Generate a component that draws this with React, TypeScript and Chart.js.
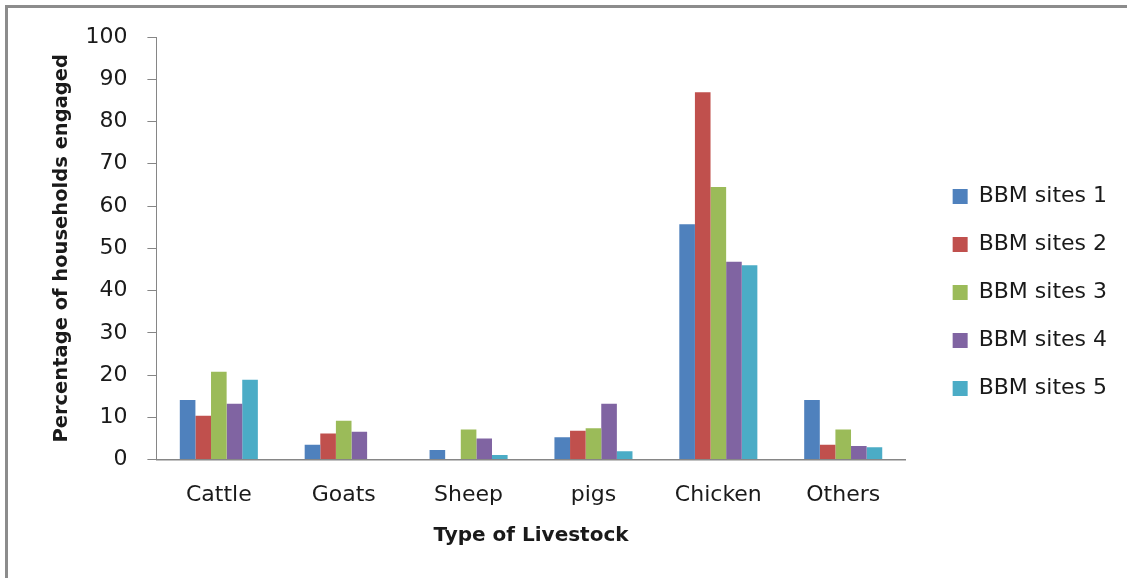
import React, { useEffect, useRef } from "react";
import { Chart, registerables } from "chart.js";

Chart.register(...registerables);

const categories = ["Cattle", "Goats", "Sheep", "pigs", "Chicken", "Others"];
const seriesNames = ["BBM sites 1", "BBM sites 2", "BBM sites 3", "BBM sites 4", "BBM sites 5"];
const site1 = [14.1, 3.5, 2.3, 5.3, 55.7, 14.1];
const site2 = [10.4, 6.2, 0, 6.8, 86.9, 3.5];
const site3 = [20.8, 9.2, 7.1, 7.4, 64.5, 7.1];
const site4 = [13.2, 6.6, 5.0, 13.2, 46.8, 3.2];
const site5 = [18.9, 0, 1.1, 2.0, 46.0, 2.9];
const seriesColors = ["#4F81BD", "#C0504D", "#9BBB59", "#8064A2", "#4BACC6"];

const yTitle = "Percentage of households engaged";
const xTitle = "Type of Livestock";

const FONT = "'DejaVu Sans', sans-serif";
const AXIS_GRAY = "#868686";
const TEXT = "#1a1a1a";

export default function App() {
  const canvasRef = useRef<HTMLCanvasElement | null>(null);

  useEffect(() => {
    if (!canvasRef.current) return;
    const values = [site1, site2, site3, site4, site5];
    const chart = new Chart(canvasRef.current, {
      type: "bar",
      data: {
        labels: categories,
        datasets: values.map((v, i) => ({
          label: seriesNames[i],
          data: v,
          backgroundColor: seriesColors[i],
          borderWidth: 0,
          categoryPercentage: 0.625,
          barPercentage: 1,
        })),
      },
      options: {
        animation: false,
        responsive: false,
        maintainAspectRatio: false,
        layout: { padding: { left: 50, top: 37, right: 10, bottom: 30 } },
        plugins: {
          tooltip: { enabled: false },
          legend: {
            position: "right",
            align: "center",
            labels: {
              boxWidth: 15,
              boxHeight: 15,
              padding: 26,
              color: TEXT,
              font: { family: FONT, size: 22 },
            },
          },
        },
        scales: {
          x: {
            grid: { display: false, drawTicks: false },
            border: { display: true, color: AXIS_GRAY, width: 1.5 },
            ticks: {
              color: TEXT,
              padding: 22,
              font: { family: FONT, size: 22 },
              maxRotation: 0,
            },
            title: {
              display: true,
              text: xTitle,
              color: TEXT,
              font: { family: FONT, size: 20, weight: "bold" },
              padding: { top: -6, bottom: 0 },
            },
          },
          y: {
            min: 0,
            max: 100,
            grid: {
              drawOnChartArea: false,
              drawTicks: true,
              tickLength: 9,
              color: AXIS_GRAY,
            },
            border: { display: true, color: AXIS_GRAY, width: 1 },
            ticks: {
              stepSize: 10,
              color: TEXT,
              padding: 20,
              font: { family: FONT, size: 22 },
            },
            title: {
              display: true,
              text: yTitle,
              color: TEXT,
              font: { family: FONT, size: 19.5, weight: "bold" },
              padding: { top: 0, bottom: -8 },
            },
          },
          // invisible spacer between the plot and the legend
          gap: {
            axis: "y",
            type: "linear",
            position: "right",
            display: false,
            afterFit: (scale: any) => {
              scale.width = 21;
            },
          },
        },
      } as any,
    });
    return () => chart.destroy();
  }, []);

  return (
    <div
      style={{
        position: "fixed",
        left: 0,
        top: 0,
        width: 1127,
        height: 578,
        background: "#fff",
        overflow: "hidden",
      }}
    >
      <div
        style={{
          position: "absolute",
          left: 5,
          top: 5,
          width: 1200,
          height: 700,
          borderLeft: "3px solid #8c8c8c",
          borderTop: "3px solid #8c8c8c",
        }}
      />
      <canvas
        ref={canvasRef}
        width={1127}
        height={578}
        style={{ position: "absolute", left: 0, top: 0, width: 1127, height: 578 }}
      />
    </div>
  );
}
